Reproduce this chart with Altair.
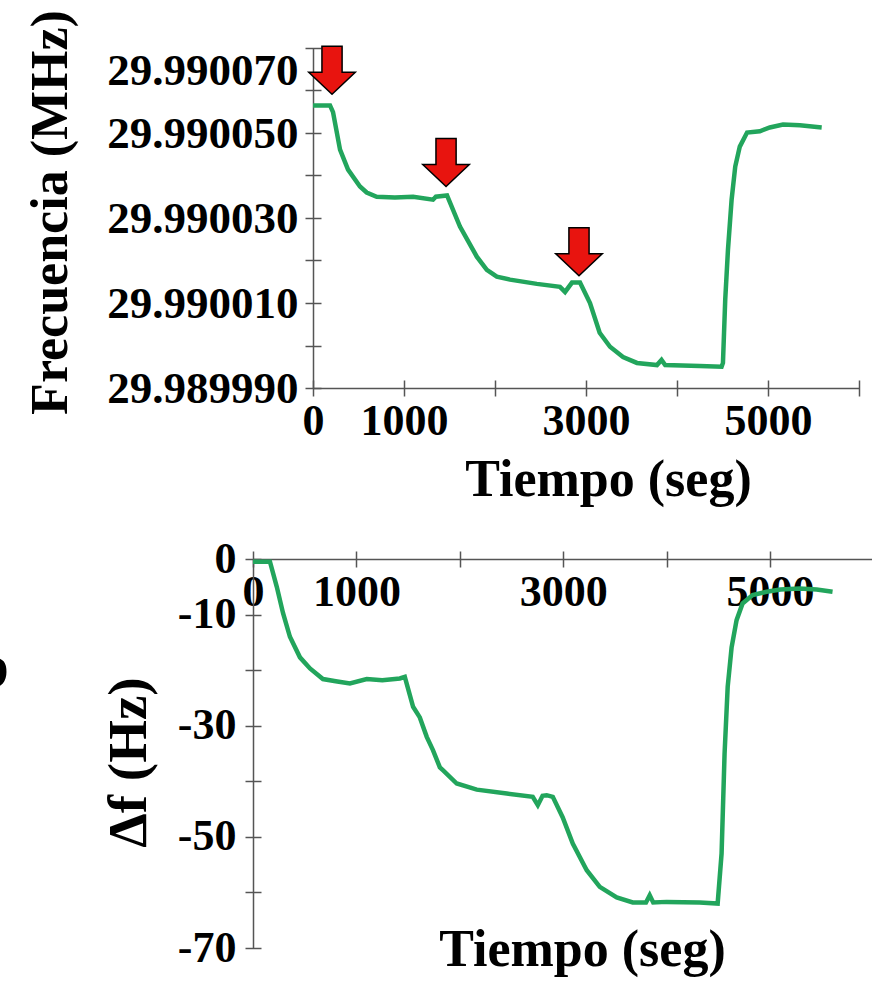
import altair as alt
import pandas as pd

# ---------------- data ----------------
top_time = [0, 187, 220, 297, 385, 516, 590, 700, 900, 1100, 1319, 1350, 1473,
            1615, 1800, 1910, 2020, 2165, 2460, 2714, 2770, 2846, 2934,
            3044, 3150, 3264, 3407, 3560, 3780, 3830, 3870, 4250, 4490,
            4505, 4530, 4560, 4600, 4640, 4690, 4770, 4910, 5020, 5165, 5350, 5590]
top_freq = [29.9900565, 29.9900565, 29.9900549, 29.9900461, 29.9900414, 29.9900374,
            29.9900360, 29.9900350, 29.9900348, 29.9900350, 29.9900343, 29.9900350,
            29.9900353, 29.9900280, 29.9900209, 29.9900178, 29.9900162, 29.9900155,
            29.9900145, 29.9900138, 29.9900126, 29.9900148, 29.9900148,
            29.9900100, 29.9900030, 29.9899997, 29.9899973, 29.9899959, 29.9899954,
            29.9899966, 29.9899954, 29.9899952, 29.9899950,
            29.9899959, 29.9900108, 29.9900225, 29.9900343, 29.9900421, 29.9900468,
            29.9900501, 29.9900504, 29.9900513, 29.9900520, 29.9900518, 29.9900513]

bot_time = [0, 164, 230, 290, 357, 454, 551, 676, 800, 937, 1100, 1250, 1420, 1468,
            1548, 1613, 1680, 1740, 1807, 1836, 1970, 2164, 2454, 2705, 2754, 2800,
            2840, 2899, 2995, 3092, 3227, 3353, 3517, 3672, 3800, 3836, 3870, 4000,
            4319, 4493, 4531, 4560, 4590, 4628, 4676, 4734, 4831, 4966, 5100, 5285,
            5450, 5604]
bot_delta = [-0.5, -0.5, -5.0, -9.7, -14.0, -17.7, -19.7, -21.6, -22.0, -22.4, -21.6,
             -21.8, -21.5, -21.2, -26.6, -28.5, -32.0, -34.4, -37.5, -38.0, -40.4,
             -41.5, -42.2, -42.8, -44.3, -42.6, -42.5, -42.8, -46.5, -51.2, -56.0,
             -59.0, -60.9, -61.8, -61.8, -60.5, -61.8, -61.7, -61.8, -62.0, -53.0,
             -35.0, -23.0, -15.9, -11.0, -8.0, -6.5, -5.9, -5.5, -5.3, -5.5, -5.9]

arrow_time = [209, 1462, 2923]
arrow_freq = [29.9900591, 29.9900374, 29.9900164]

x_ticks = [0, 1000, 2000, 3000, 4000, 5000, 6000]
x_labels = [0, 1000, 3000, 5000]
top_y_ticks = [29.98999, 29.99000, 29.99001, 29.99002, 29.99003,
               29.99004, 29.99005, 29.99006, 29.99007]
top_y_labels = ["29.989990", "29.990010", "29.990030", "29.990050", "29.990070"]
bot_y_ticks = [0, -10, -20, -30, -40, -50, -60, -70]
bot_y_labels = [0, -10, -30, -50, -70]
panel_letter = ["b"]

# ---------------- styling ----------------
FONT = "Liberation Serif"
AXC = "#555555"
GREEN = "#22a55c"
RED = "#e8140f"
ARROW = "M -0.42 -2 L 0.42 -2 L 0.42 -0.92 L 0.97 -0.92 L 0 0 L -0.97 -0.92 L -0.42 -0.92 Z"

top_df = pd.DataFrame({"t": top_time, "f": top_freq})
bot_df = pd.DataFrame({"t": bot_time, "d": bot_delta})
arr_df = pd.DataFrame({"t": arrow_time, "f": arrow_freq})
let_df = pd.DataFrame({"s": panel_letter})

x_top = alt.Scale(domain=[0, 6000], range=[60, 606], nice=False, zero=False)
y_top = alt.Scale(domain=[29.98999, 29.99007], range=[341, 1], nice=False, zero=False)
x_bot = alt.Scale(domain=[0, 6000], range=[0, 620.5], nice=False, zero=False)
y_bot = alt.Scale(domain=[-70, 0], range=[901, 512], nice=False, zero=False)

common = dict(grid=False, labelFont=FONT, labelFontWeight="bold",
              labelColor="black", titleFont=FONT, titleFontWeight="bold",
              titleColor="black", tickColor=AXC, tickWidth=1.5, labelFlush=False,
              labelOverlap=False, labelLimit=0, titleLimit=0)

def dom_axis(orient, offset):
    return alt.Axis(orient=orient, offset=offset, domain=True, domainColor=AXC,
                    domainWidth=1.5, ticks=False, labels=False, grid=False, title=None)

num_expr_x = f"indexof({x_labels}, datum.value) >= 0 ? toString(datum.value) : ''"
num_expr_by = f"indexof({bot_y_labels}, datum.value) >= 0 ? toString(datum.value) : ''"
str_expr_ty = ("indexof([" + ",".join(f"'{s}'" for s in top_y_labels) +
               "], format(datum.value, '.6f')) >= 0 ? format(datum.value, '.6f') : ''")

top_line = alt.Chart(top_df).mark_line(color=GREEN, strokeWidth=4.5).encode(
    x=alt.X("t:Q", scale=x_top, axis=alt.Axis(
        orient="bottom", offset=-568, values=x_ticks, labelExpr=num_expr_x,
        tickSize=16, domain=False, labelPadding=3, labelAngle=0, labelFontSize=44,
        title="Tiempo (seg)", titleFontSize=52, titleX=355, titleY=115,
        titleAlign="center", titleBaseline="alphabetic", titleAngle=0, **common)),
    y=alt.Y("f:Q", scale=y_top, axis=alt.Axis(
        orient="left", offset=-68, values=top_y_ticks, labelExpr=str_expr_ty,
        tickSize=16, domain=False, labelPadding=7, labelAlign="right", labelFontSize=45,
        labelBaseline={"condition": {"test": "datum.value > 29.990065", "value": "top"},
                       "value": "middle"},
        title="Frecuencia (MHz)", titleFontSize=52, titleX=-271, titleY=165,
        titleAngle=270, titleAlign="center", titleBaseline="middle", **common)),
)

arrows = alt.Chart(arr_df).mark_point(
    shape=ARROW, size=2304, filled=True, fill=RED, stroke="black",
    strokeWidth=1.5, opacity=1).encode(
    x=alt.X("t:Q", scale=x_top, axis=dom_axis("bottom", -560)),
    y=alt.Y("f:Q", scale=y_top, axis=dom_axis("left", -60)),
)

bot_ghost = alt.Chart(bot_df).mark_line(opacity=0).encode(
    x=alt.X("t:Q", scale=x_bot, axis=dom_axis("bottom", -389)),
    y=alt.Y("d:Q", scale=y_bot, axis=dom_axis("left", 0)),
)

bot_line = alt.Chart(bot_df).mark_line(color=GREEN, strokeWidth=4.5).encode(
    x=alt.X("t:Q", scale=x_bot, axis=alt.Axis(
        orient="bottom", offset=-397, values=x_ticks, labelExpr=num_expr_x,
        tickSize=16, domain=False, labelPadding=3, labelAngle=0, labelFontSize=44,
        title="Tiempo (seg)", titleFontSize=52, titleX=329, titleY=414,
        titleAlign="center", titleBaseline="alphabetic", titleAngle=0, **common)),
    y=alt.Y("d:Q", scale=y_bot, axis=alt.Axis(
        orient="left", offset=-8, values=bot_y_ticks, labelExpr=num_expr_by,
        tickSize=16, domain=False, labelPadding=9, labelAlign="right",
        labelBaseline="middle", labelFontSize=44,
        title="Δf (Hz)", titleFontSize=55, titleX=-133, titleY=715,
        titleAngle=270, titleAlign="center", titleBaseline="middle", **common)),
)

letter = alt.Chart(let_df).mark_text(
    font=FONT, fontSize=62, fontWeight="bold", align="right",
    baseline="alphabetic", color="black").encode(
    text="s:N", x=alt.value(-244), y=alt.value(640))

chart = alt.layer(top_line, arrows, bot_ghost, bot_line, letter).resolve_scale(
    x="independent", y="independent").resolve_axis(
    x="independent", y="independent").properties(
    width=619, height=901,
    autosize=alt.AutoSizeParams(type="none"),
    padding={"left": 253, "top": 47, "right": 0, "bottom": 39},
    background="white",
).configure_view(stroke=None)

chart.save("out.html", embed_options={"renderer": "svg", "actions": False})
